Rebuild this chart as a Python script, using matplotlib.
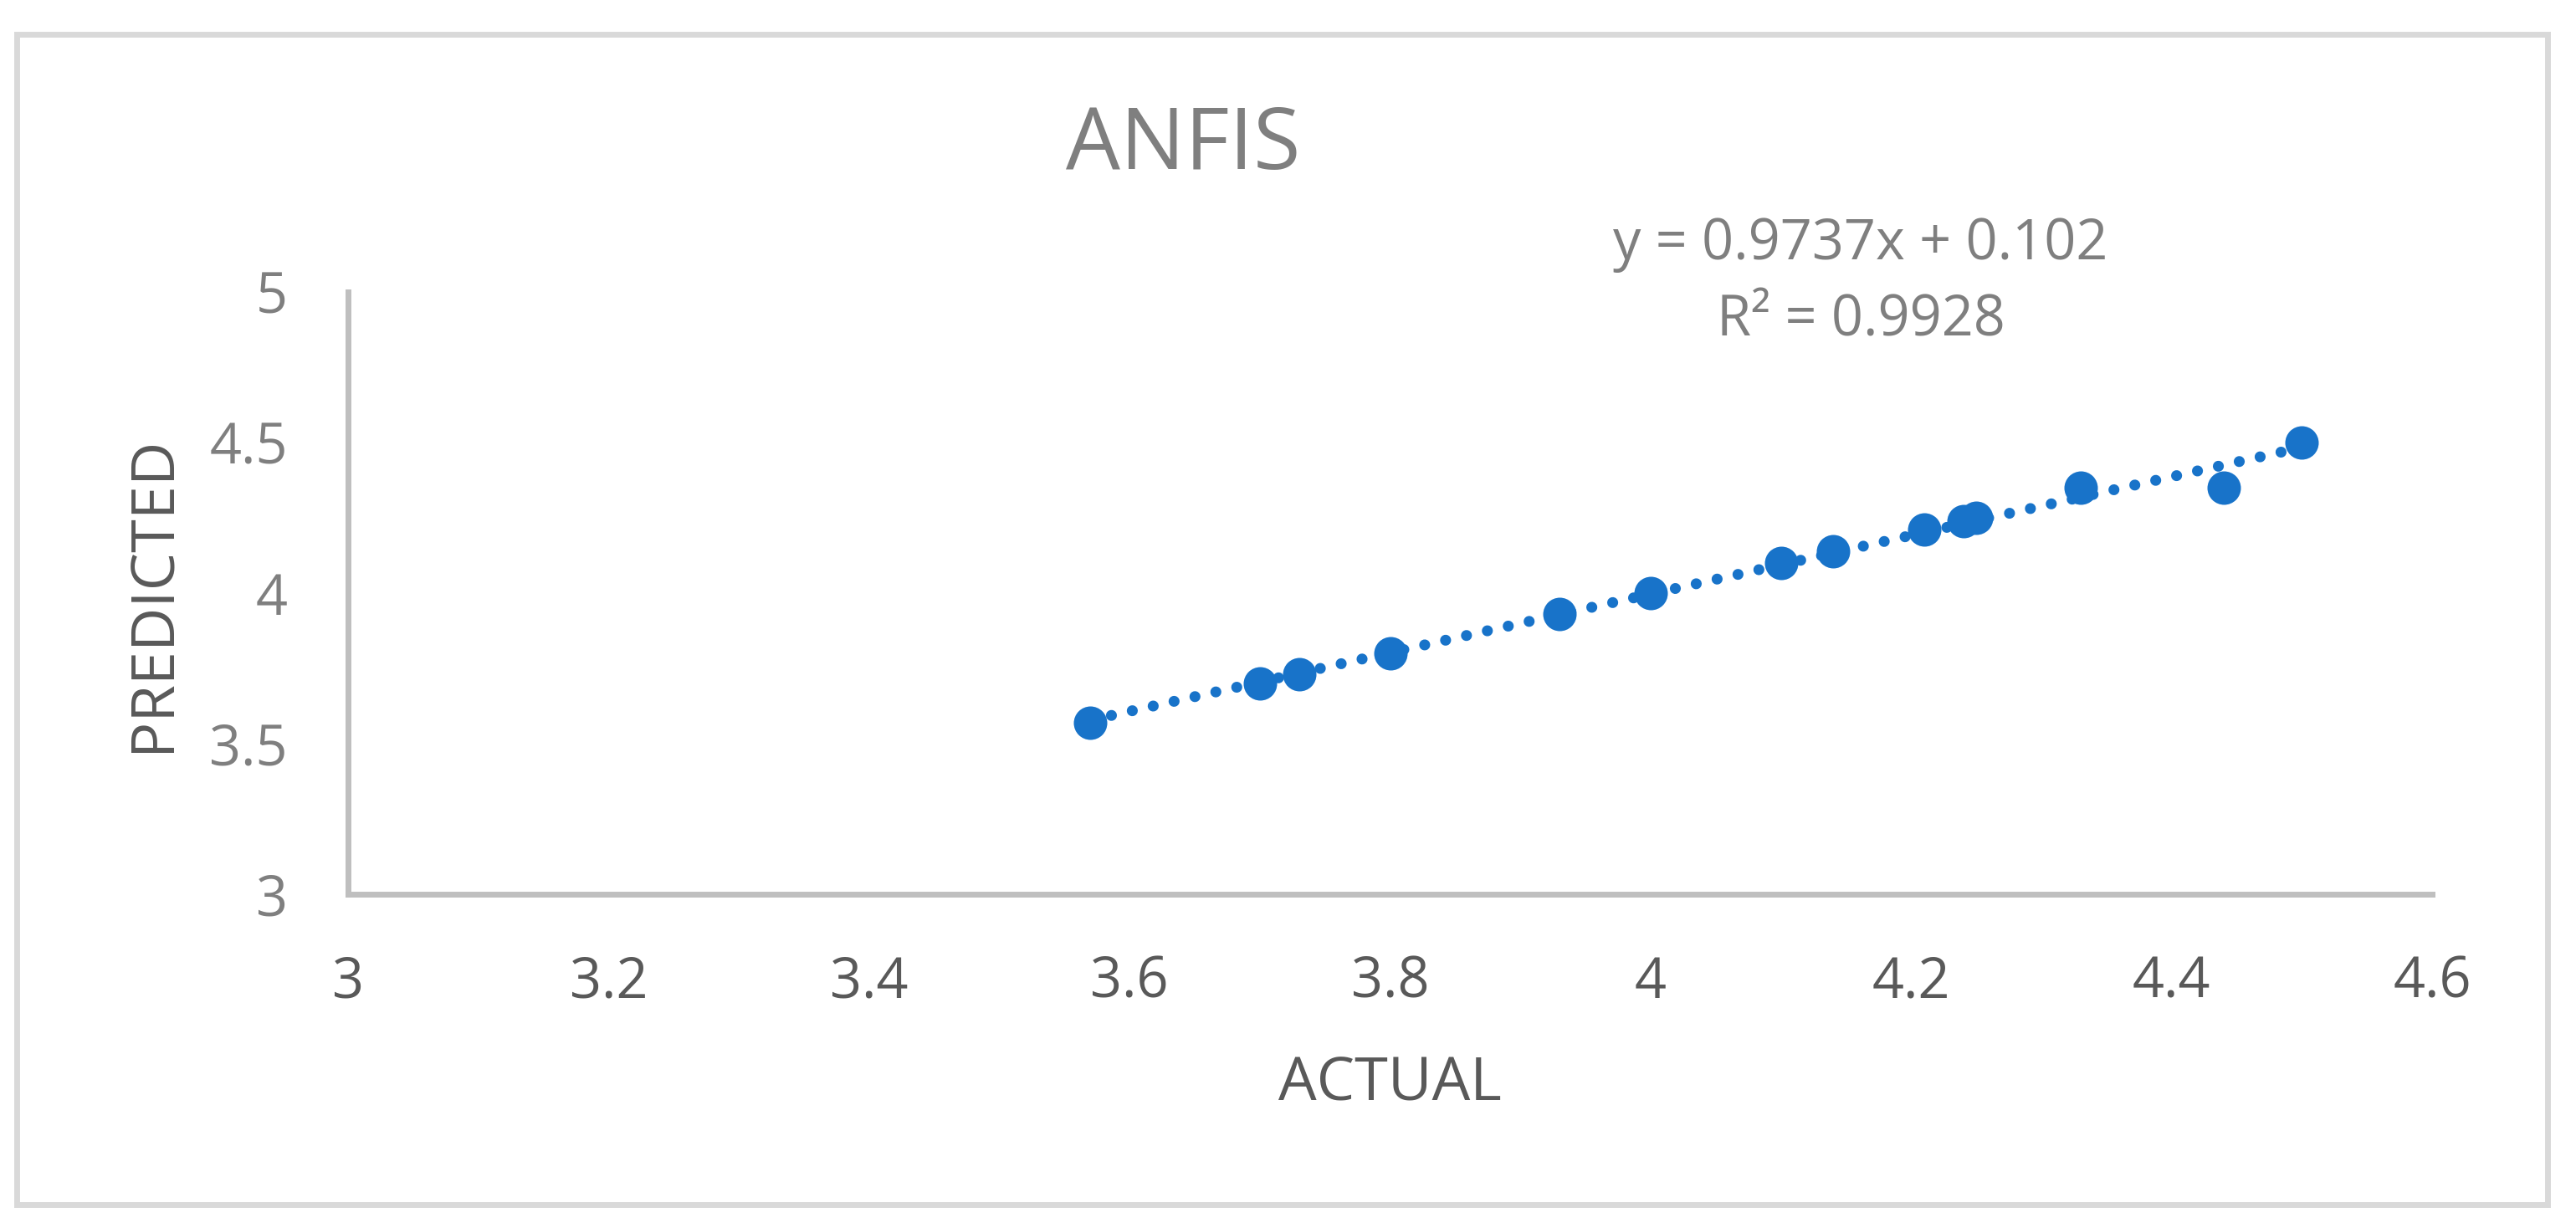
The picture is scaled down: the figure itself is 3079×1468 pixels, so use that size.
import numpy as np
import matplotlib
matplotlib.use('Agg')
import matplotlib.pyplot as plt
from matplotlib.patches import Rectangle

plt.rcParams['font.family'] = ['Open Sans', 'DejaVu Sans']

# data
actual = [3.57, 3.70, 3.73, 3.80, 3.93, 4.00, 4.10, 4.14, 4.21, 4.24, 4.25, 4.33, 4.44, 4.50]
predicted = [3.57, 3.70, 3.73, 3.80, 3.93, 4.00, 4.10, 4.14, 4.21, 4.24, 4.25, 4.35, 4.35, 4.50]
x_ticks = [3, 3.2, 3.4, 3.6, 3.8, 4, 4.2, 4.4, 4.6]
x_labels = ['3', '3.2', '3.4', '3.6', '3.8', '4', '4.2', '4.4', '4.6']
y_ticks = [3, 3.5, 4, 4.5, 5]
y_labels = ['3', '3.5', '4', '4.5', '5']
title = 'ANFIS'
eq_line = 'y = 0.9737x + 0.102'
r2_line = 'R\u00b2 = 0.9928'

blue = '#1873c9'
W, H = 3079, 1468
dpi = 200

fig = plt.figure(figsize=(W / dpi, H / dpi), dpi=dpi)
ax = fig.add_axes([416 / W, 1 - 1069 / H, (2907 - 416) / W, (1069 - 349) / H])

# trendline (linear fit of the points)
slope, intercept = np.polyfit(actual, predicted, 1)
xs = np.array([min(actual), max(actual)])
ax.plot(xs, slope * xs + intercept, color=blue, lw=4.7,
        dashes=(0.01, 1.95), dash_capstyle='round', zorder=2)
ax.plot(actual, predicted, 'o', color=blue, markersize=14.4,
        markeredgewidth=0, zorder=3)

ax.set_xlim(3, 4.6)
ax.set_ylim(3, 5)
ax.set_xticks(x_ticks)
ax.set_xticklabels(x_labels)
ax.set_yticks(y_ticks)
ax.set_yticklabels(y_labels)
ax.tick_params(axis='x', length=0, pad=26, labelsize=24, labelcolor='#595959')
ax.tick_params(axis='y', length=0, pad=26, labelsize=24, labelcolor='#7f7f7f')
for s in ['top', 'right']:
    ax.spines[s].set_visible(False)
for s in ['left', 'bottom']:
    ax.spines[s].set_color('#bfbfbf')
    ax.spines[s].set_linewidth(2.5)

fig.text(1414 / W, 1 - 202 / H, title, ha='center', va='baseline',
         fontsize=37, color='#7f7f7f')
fig.text(2224 / W, 1 - 310 / H, eq_line, ha='center', va='baseline',
         fontsize=24, color='#7f7f7f')
fig.text(2224 / W, 1 - 402 / H, r2_line, ha='center', va='baseline',
         fontsize=24, color='#7f7f7f')
fig.text(1661 / W, 1 - 1316 / H, 'ACTUAL', ha='center', va='baseline',
         fontsize=26, color='#595959')
fig.text(203 / W, 1 - 710 / H, 'PREDICTED', ha='center', va='baseline',
         rotation=90, rotation_mode='anchor', fontsize=26, color='#595959')

# outer chart border
fig.patches.append(Rectangle((20 / W, 1 - 1440 / H), 3025 / W, 1399 / H,
                             transform=fig.transFigure, fill=False,
                             edgecolor='#d9d9d9', linewidth=2.5))

fig.savefig('out.png', dpi=dpi)
